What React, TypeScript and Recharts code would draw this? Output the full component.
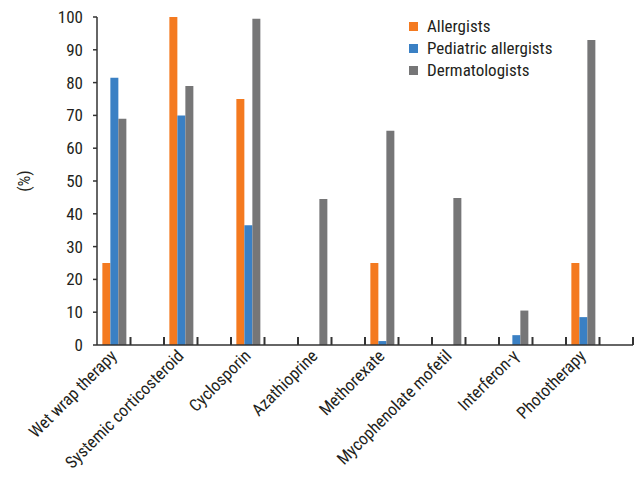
import React from 'react';
import { BarChart, Bar, XAxis, YAxis, Legend } from 'recharts';

const categories = [
  'Wet wrap therapy',
  'Systemic corticosteroid',
  'Cyclosporin',
  'Azathioprine',
  'Methorexate',
  'Mycophenolate mofetil',
  'Interferon-γ',
  'Phototherapy',
];
const allergists = [25, 100, 75, 0, 25, 0, 0, 25];
const pediatricAllergists = [81.5, 70, 36.5, 0, 1.2, 0, 3, 8.5];
const dermatologists = [69, 79, 99.5, 44.5, 65.3, 44.8, 10.5, 93];
const yTicks = [0, 10, 20, 30, 40, 50, 60, 70, 80, 90, 100];

const FONT = "'Liberation Sans Narrow', 'Arial Narrow', 'Roboto Condensed', sans-serif";
const TEXT = '#231f20';
const AXIS = '#333333';

const series = [
  { key: 'allergists', name: 'Allergists', color: '#f47a20' },
  { key: 'pediatric', name: 'Pediatric allergists', color: '#3a80c4' },
  { key: 'derm', name: 'Dermatologists', color: '#767677' },
];

// every treatment is followed by an empty slot of the same width
const rows: any[] = [];
categories.forEach((name, i) => {
  rows.push({
    name,
    allergists: allergists[i],
    pediatric: pediatricAllergists[i],
    derm: dermatologists[i],
  });
  rows.push({ name: `__gap${i}` });
});

// tick mark on the right edge of each slot, label only under treatments
const SlotTick = (props: any) => {
  const { x, y, payload } = props;
  const edge = x + (Number(payload.offset) || 0);
  const show = categories.includes(payload.value);
  return (
    <g>
      <path d={`M${edge},${y}V${y - 8}`} stroke={AXIS} strokeWidth={2} />
      {show && (
        <text
          x={x + 4}
          y={y + 12}
          transform={`rotate(-45 ${x + 4} ${y + 12})`}
          textAnchor="end"
          fontFamily={FONT}
          fontSize={17}
          fill={TEXT}
        >
          {payload.value}
        </text>
      )}
    </g>
  );
};

const PercentLabel = ({ viewBox }: any) => {
  const cx = viewBox.x + 24;
  const cy = viewBox.y + viewBox.height / 2;
  return (
    <text
      x={cx}
      y={cy}
      transform={`rotate(-90 ${cx} ${cy})`}
      textAnchor="middle"
      dominantBaseline="central"
      fontFamily={FONT}
      fontSize={17}
      fill={TEXT}
    >
      (%)
    </text>
  );
};

const LegendBox = () => (
  <div style={{ fontFamily: FONT, fontSize: 17, color: TEXT, lineHeight: '22px' }}>
    {series.map((s) => (
      <div key={s.key} style={{ display: 'flex', alignItems: 'center' }}>
        <span style={{ width: 9, height: 9, background: s.color, marginRight: 9, display: 'inline-block' }} />
        {s.name}
      </div>
    ))}
  </div>
);

export default function App() {
  return (
    <div style={{ position: 'absolute', left: 0, top: 0, background: '#fff' }}>
      <BarChart
        width={636}
        height={485}
        data={rows}
        margin={{ top: 17, right: 3, left: 0, bottom: 0 }}
        barCategoryGap="16%"
        barGap={0}
      >
        <XAxis
          dataKey="name"
          interval={0}
          height={140}
          axisLine={{ stroke: AXIS, strokeWidth: 1.5 }}
          tickLine={false}
          tickSize={0}
          tickMargin={0}
          tick={<SlotTick />}
        />
        <YAxis
          width={97}
          domain={[0, 100]}
          ticks={yTicks}
          interval={0}
          tickSize={4}
          tickMargin={10}
          axisLine={{ stroke: AXIS, strokeWidth: 1.5 }}
          tickLine={{ stroke: AXIS, strokeWidth: 1.5 }}
          tick={{ fontFamily: FONT, fontSize: 17, fill: TEXT }}
          label={<PercentLabel />}
        />
        <Legend
          layout="vertical"
          align="center"
          verticalAlign="middle"
          content={<LegendBox />}
          wrapperStyle={{ left: 409, top: 15, width: 200 }}
        />
        {series.map((s) => (
          <Bar
            key={s.key}
            dataKey={s.key}
            name={s.name}
            fill={s.color}
            isAnimationActive={false}
          />
        ))}
      </BarChart>
    </div>
  );
}
